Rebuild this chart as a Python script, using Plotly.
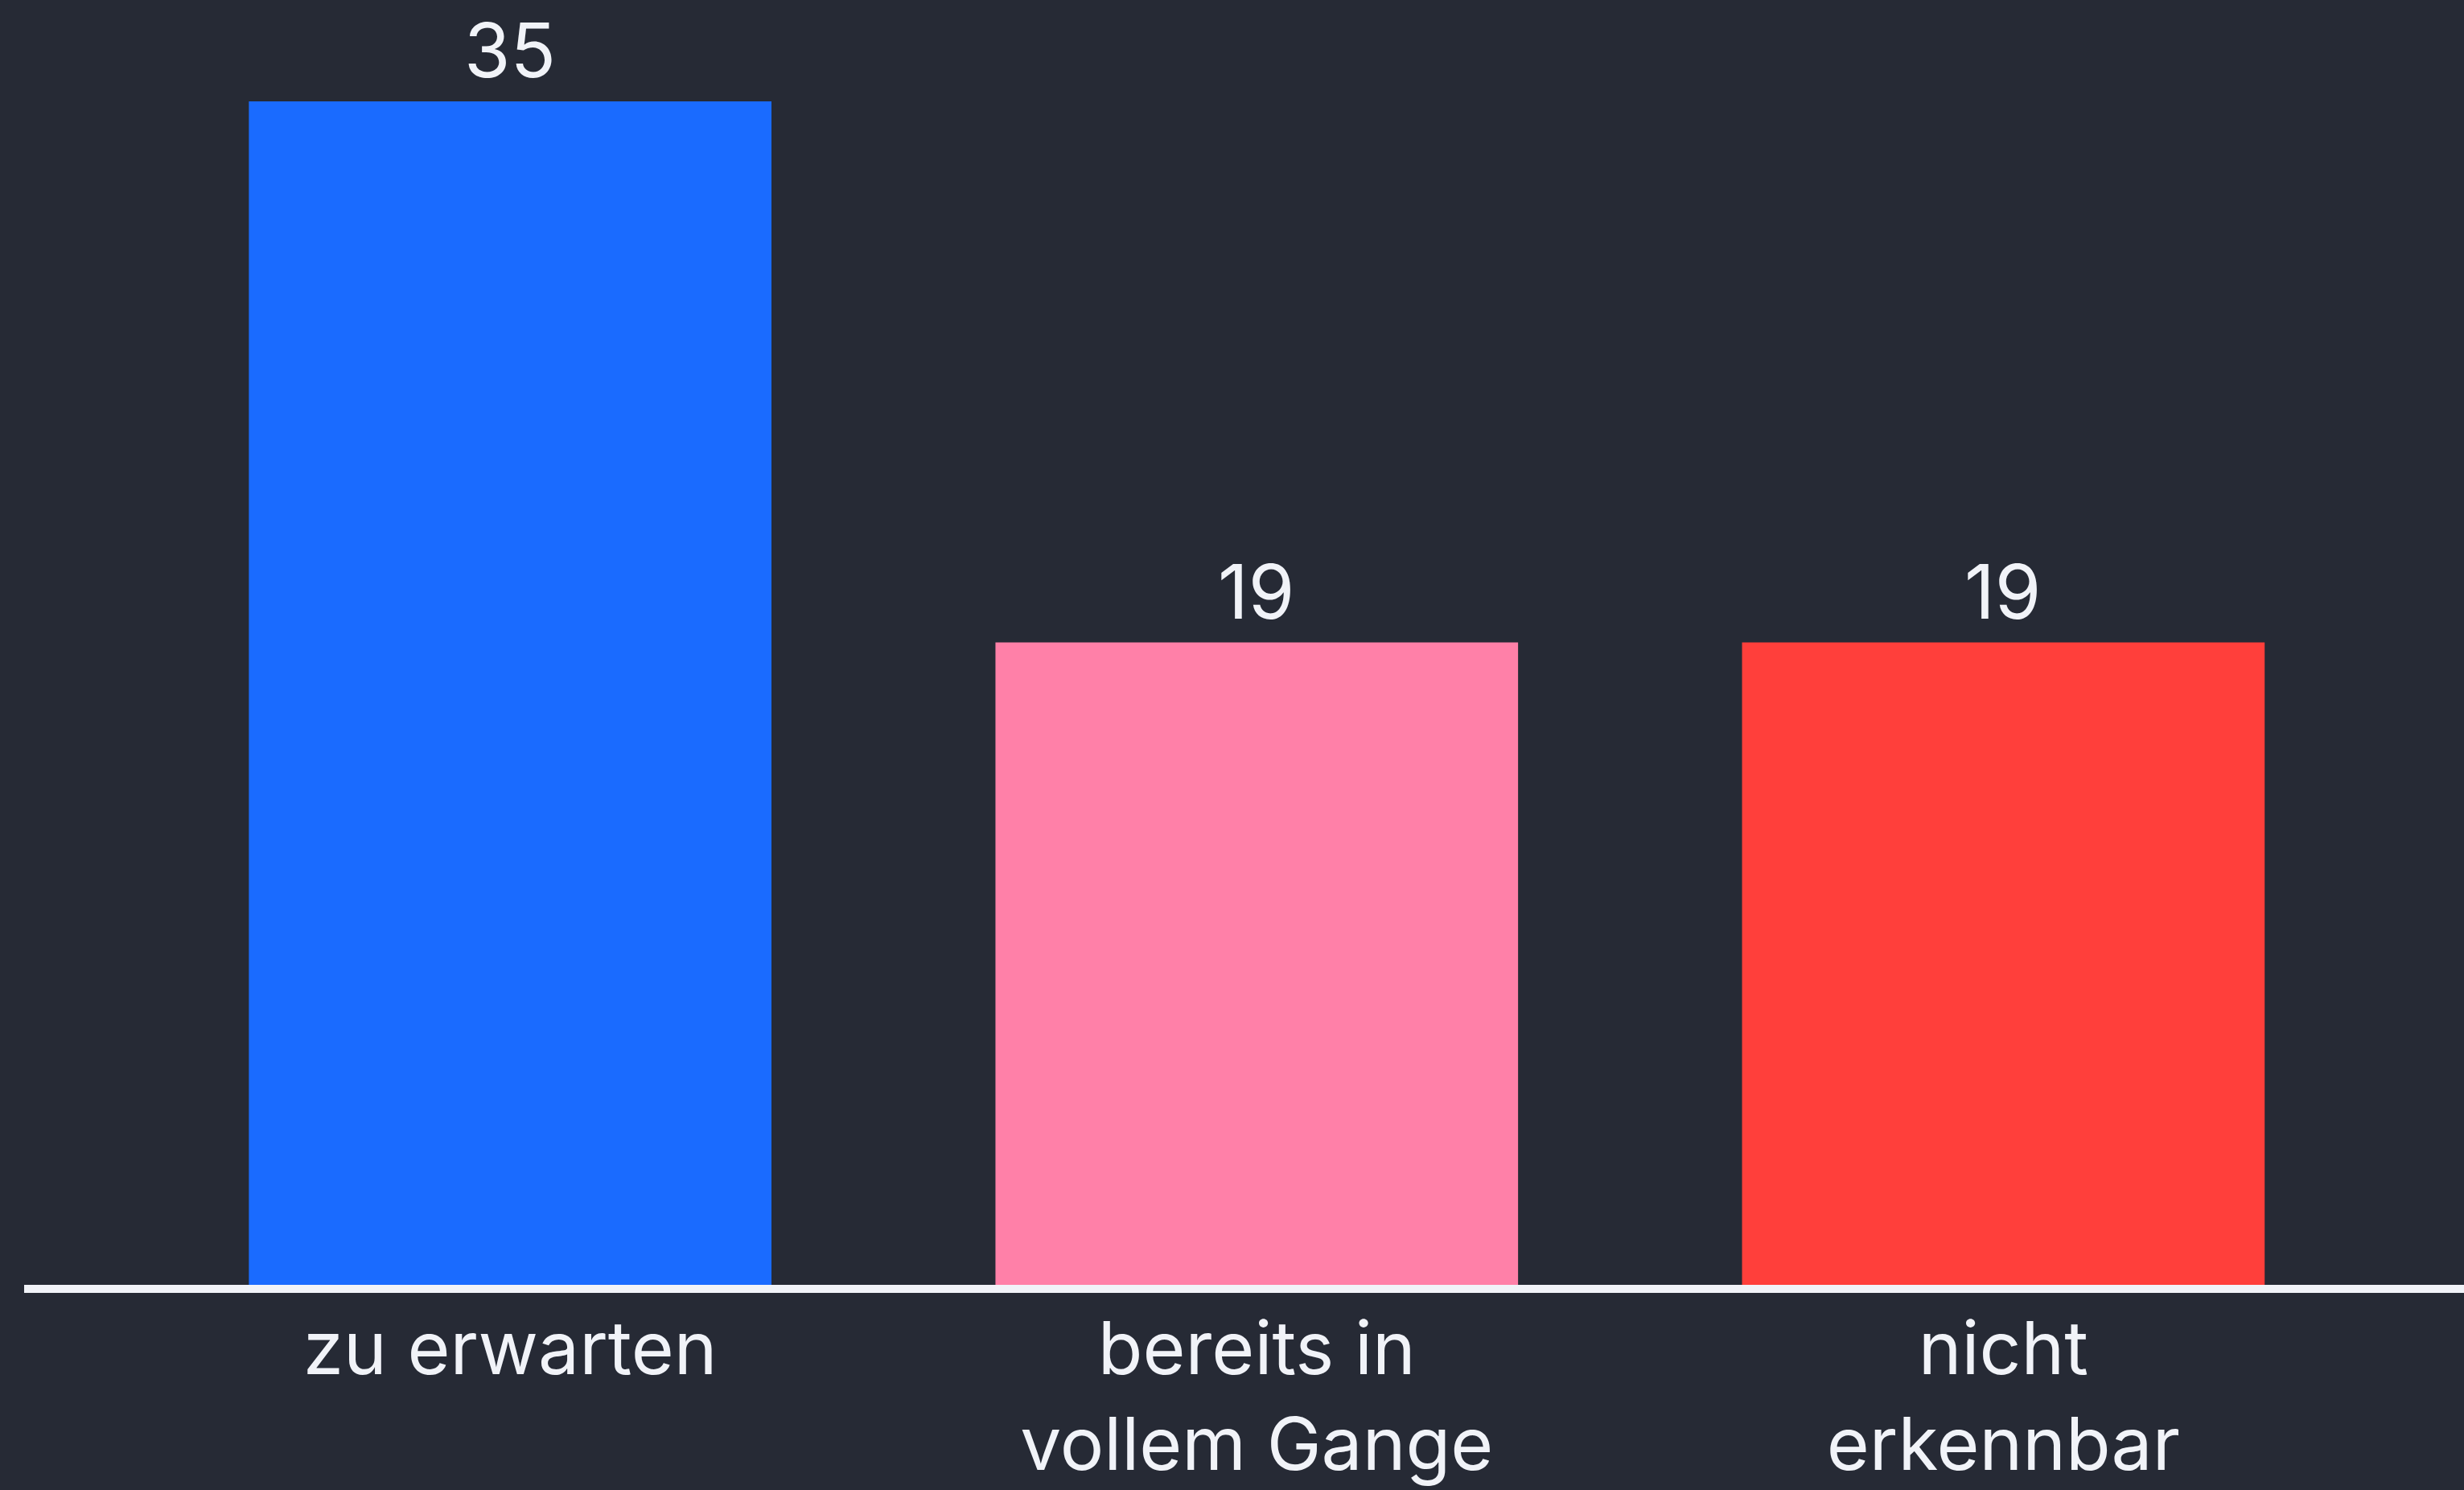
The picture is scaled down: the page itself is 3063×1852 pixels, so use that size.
import plotly.graph_objects as go

categories = ["zu erwarten", "bereits in<br>vollem Gange", "nicht<br>erkennbar"]
values = [35, 19, 19]
bar_colors = ["#1a6bff", "#ff80a8", "#ff3f3b"]

BG = "#262a35"
FG = "#f1f3f8"
FONT = "Inter, Lato, sans-serif"

xpos = list(range(len(categories)))

fig = go.Figure(
    go.Bar(
        x=xpos,
        y=values,
        marker=dict(color=bar_colors, line=dict(width=0)),
        width=0.70,
        hoverinfo="skip",
    )
)

for xi, v in zip(xpos, values):
    fig.add_annotation(
        x=xi, y=v, xref="x", yref="y",
        text=str(v), showarrow=False,
        yanchor="bottom", yshift=6,
        font=dict(family=FONT, size=93, color=FG),
    )

fig.update_layout(
    width=3063,
    height=1852,
    paper_bgcolor=BG,
    plot_bgcolor=BG,
    margin=dict(l=30, r=0, t=0, b=255, autoexpand=False),
    showlegend=False,
    font=dict(family=FONT, color=FG),
    xaxis=dict(
        range=[-0.651, 2.617],
        tickmode="array",
        tickvals=xpos,
        ticktext=categories,
        tickfont=dict(family=FONT, size=91, color=FG),
        ticklabelstandoff=-8,
        automargin=False,
        showgrid=False,
        zeroline=False,
        showline=True,
        linecolor=FG,
        linewidth=10,
        ticks="",
        fixedrange=True,
    ),
    yaxis=dict(
        range=[0, 38.0],
        visible=False,
        automargin=False,
        showgrid=False,
        zeroline=False,
        fixedrange=True,
    ),
)

fig.write_html(
    "out.html",
    config={"displayModeBar": False},
    post_script=(
        "document.documentElement.style.margin='0';"
        "document.body.style.margin='0';"
        "document.body.style.padding='0';"
        "document.body.style.overflow='hidden';"
        "document.body.style.background='#262a35';"
    ),
)
